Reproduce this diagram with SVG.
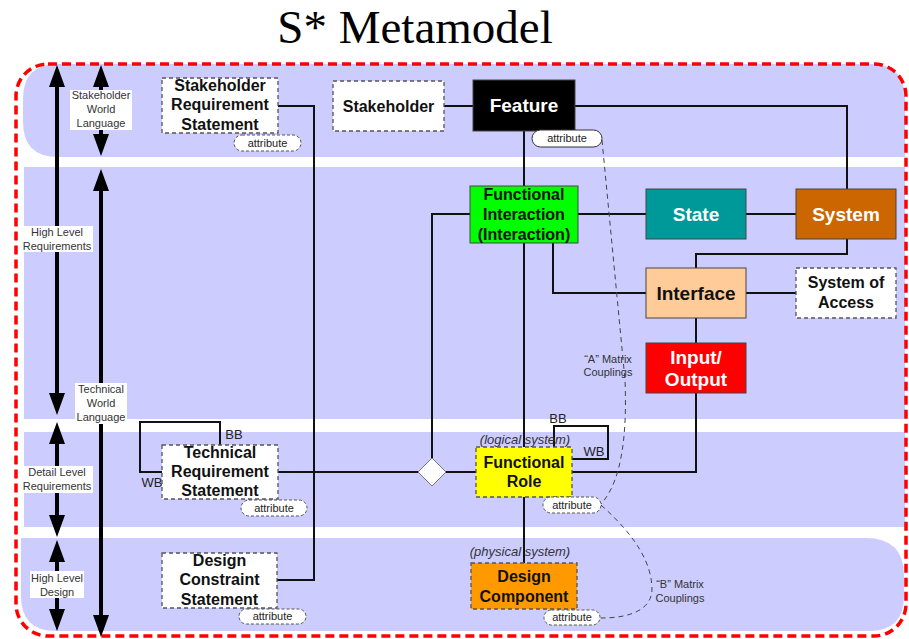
<svg xmlns="http://www.w3.org/2000/svg" width="909" height="639" viewBox="0 0 909 639">
<style>
.band{fill:#ccccff}
.lbl{font-family:"Liberation Sans",Arial,sans-serif;font-size:11px;fill:#333;text-anchor:middle}
.lblbg{fill:#ffffff}
.conn{fill:none;stroke:#111;stroke-width:2}
.cpl{fill:none;stroke:#444;stroke-width:1;stroke-dasharray:5 4}
.dbox{stroke:#555;stroke-width:1.3;stroke-dasharray:4 3}
.sbox{stroke:#444;stroke-width:1}
.t16{font-family:"Liberation Sans",Arial,sans-serif;font-size:16px;font-weight:bold;text-anchor:middle;fill:#111}
.t19{font-family:"Liberation Sans",Arial,sans-serif;font-size:19px;font-weight:bold;text-anchor:middle}
.pill{fill:#fff;stroke:#555;stroke-width:1;stroke-dasharray:3 2}
.pills{fill:#fff;stroke:#333;stroke-width:1}
.pt{font-family:"Liberation Sans",Arial,sans-serif;font-size:11px;fill:#222;text-anchor:middle}
.it{font-family:"Liberation Sans",Arial,sans-serif;font-size:13px;font-style:italic;fill:#333;text-anchor:middle}
.bw{font-family:"Liberation Sans",Arial,sans-serif;font-size:13px;fill:#222;text-anchor:middle}
.ar{fill:#000}
.al{stroke:#000;stroke-width:4}
</style>

<text x="415" y="43" font-family="'Liberation Serif','Times New Roman',serif" font-size="47" text-anchor="middle" fill="#000">S* Metamodel</text>

<g id="bands">
<path class="band" d="M58,64 H870 Q905,64 905,99 V157 H58 Q23,157 23,122 V99 Q23,64 58,64 Z"/>
<rect class="band" x="24" y="167" width="881" height="252"/>
<rect class="band" x="24" y="432" width="881" height="95"/>
<path class="band" d="M21,538 H866 Q904,538 904,576 V596 Q904,631 869,631 H56 Q21,631 21,596 Z"/>
</g>

<rect id="boundary" x="16" y="64" width="890" height="572" rx="32" fill="none" stroke="#ff0000" stroke-width="3.5" stroke-dasharray="9 5"/>

<g id="level-arrows">
<line class="al" x1="57" y1="84" x2="57" y2="396"/>
<polygon class="ar" points="57,65 49,87 65,87"/>
<polygon class="ar" points="57,415 49,393 65,393"/>
<line class="al" x1="57" y1="441" x2="57" y2="518"/>
<polygon class="ar" points="57,422 49,444 65,444"/>
<polygon class="ar" points="57,537 49,515 65,515"/>
<line class="al" x1="57" y1="559" x2="57" y2="612"/>
<polygon class="ar" points="57,540 49,562 65,562"/>
<polygon class="ar" points="57,631 49,609 65,609"/>
<line class="al" x1="101" y1="84" x2="101" y2="137"/>
<polygon class="ar" points="101,65 93,87 109,87"/>
<polygon class="ar" points="101,156 93,134 109,134"/>
<line class="al" x1="101" y1="188" x2="101" y2="618"/>
<polygon class="ar" points="101,169 93,191 109,191"/>
<polygon class="ar" points="101,637 93,615 109,615"/>
</g>

<g id="level-labels">
<rect class="lblbg" x="70" y="90" width="62" height="40"/>
<text class="lbl" x="101" y="99">Stakeholder</text>
<text class="lbl" x="101" y="113">World</text>
<text class="lbl" x="101" y="127">Language</text>
<rect class="lblbg" x="21" y="226" width="72" height="26"/>
<text class="lbl" x="57" y="236">High Level</text>
<text class="lbl" x="57" y="250">Requirements</text>
<rect class="lblbg" x="75" y="383" width="52" height="41"/>
<text class="lbl" x="101" y="393">Technical</text>
<text class="lbl" x="101" y="407">World</text>
<text class="lbl" x="101" y="421">Language</text>
<rect class="lblbg" x="22" y="466" width="71" height="27"/>
<text class="lbl" x="57" y="476">Detail Level</text>
<text class="lbl" x="57" y="490">Requirements</text>
<rect class="lblbg" x="30" y="571" width="54" height="27"/>
<text class="lbl" x="57" y="582">High Level</text>
<text class="lbl" x="57" y="596">Design</text>
</g>

<g id="connectors">
<path class="conn" d="M278,106 H314 V580 H277"/>
<path class="conn" d="M278,472 H418"/>
<path class="conn" d="M446,472 H476"/>
<path class="conn" d="M470,214 H432 V458"/>
<path class="conn" d="M444,106 H473"/>
<path class="conn" d="M575,106 H847 V189"/>
<path class="conn" d="M524,131 V447"/>
<path class="conn" d="M578,214 H646"/>
<path class="conn" d="M746,214 H796"/>
<path class="conn" d="M553,243 V293 H646"/>
<path class="conn" d="M847,239 V254 H696 V268"/>
<path class="conn" d="M746,293 H796"/>
<path class="conn" d="M696,318 V343"/>
<path class="conn" d="M696,393 V472 H572"/>
<path class="conn" d="M524,497 V563"/>
<path class="conn" d="M220,445 V422 H140 V472 H162"/>
<path class="conn" d="M554,447 V426 H608 V459 H572"/>
<path class="cpl" d="M602,140 L625,380 C627,430 623,480 601,504"/>
<path class="cpl" d="M601,505 C638,538 652,565 652,590 C651,610 630,618 601,618"/>
</g>

<g id="coupling-labels">
<text class="lbl" x="608" y="363">“A” Matrix</text>
<text class="lbl" x="608" y="376">Couplings</text>
<text class="lbl" x="680" y="588">“B” Matrix</text>
<text class="lbl" x="680" y="602">Couplings</text>
<text class="bw" x="234" y="439">BB</text>
<text class="bw" x="152" y="487">WB</text>
<text class="bw" x="558" y="423">BB</text>
<text class="bw" x="594" y="456">WB</text>
<text class="it" x="525" y="444">(logical system)</text>
<text class="it" x="520" y="556">(physical system)</text>
</g>

<g id="stakeholder-requirement-statement">
<rect class="dbox" x="162" y="78" width="116" height="55" fill="#fff"/>
<text class="t16" x="220" y="91">Stakeholder</text>
<text class="t16" x="220" y="110">Requirement</text>
<text class="t16" x="220" y="130">Statement</text>
<rect class="pill" x="234" y="135" width="67" height="16" rx="8"/>
<text class="pt" x="267.5" y="147">attribute</text>
</g>

<g id="stakeholder">
<rect class="dbox" x="333" y="81" width="111" height="50" fill="#fff"/>
<text class="t16" x="388.5" y="112">Stakeholder</text>
</g>

<g id="feature">
<rect class="sbox" x="473" y="80" width="102" height="51" fill="#000"/>
<text class="t19" x="524" y="112" fill="#fff">Feature</text>
<rect class="pills" x="532" y="130" width="70" height="17" rx="8.5"/>
<text class="pt" x="567" y="142">attribute</text>
</g>

<g id="functional-interaction">
<rect class="sbox" x="470" y="186" width="108" height="57" fill="#00ff00"/>
<text class="t16" x="524" y="200">Functional</text>
<text class="t16" x="524" y="220">Interaction</text>
<text class="t16" x="524" y="240">(Interaction)</text>
</g>

<g id="state">
<rect class="sbox" x="646" y="189" width="100" height="50" fill="#009999"/>
<text class="t19" x="696" y="221" fill="#fff">State</text>
</g>

<g id="system">
<rect class="sbox" x="796" y="189" width="100" height="50" fill="#cc6600"/>
<text class="t19" x="846" y="221" fill="#fff">System</text>
</g>

<g id="interface">
<rect class="sbox" x="646" y="268" width="100" height="50" fill="#ffcc99"/>
<text class="t19" x="696" y="300" fill="#111">Interface</text>
</g>

<g id="system-of-access">
<rect class="dbox" x="796" y="268" width="100" height="50" fill="#fff"/>
<text class="t16" x="846" y="288">System of</text>
<text class="t16" x="846" y="308">Access</text>
</g>

<g id="input-output">
<rect class="sbox" x="646" y="343" width="100" height="50" fill="#ff0000"/>
<text class="t19" x="696" y="364" fill="#fff">Input/</text>
<text class="t19" x="696" y="386" fill="#fff">Output</text>
</g>

<g id="junction">
<polygon points="432,458 446,472 432,486 418,472" fill="#fff" stroke="#777" stroke-width="1"/>
</g>

<g id="functional-role">
<rect class="dbox" x="476" y="447" width="96" height="50" fill="#ffff00"/>
<text class="t16" x="524" y="468">Functional</text>
<text class="t16" x="524" y="487">Role</text>
<rect class="pill" x="543" y="497" width="58" height="16" rx="8"/>
<text class="pt" x="572" y="509">attribute</text>
</g>

<g id="technical-requirement-statement">
<rect class="dbox" x="162" y="445" width="116" height="54" fill="#fff"/>
<text class="t16" x="220" y="458">Technical</text>
<text class="t16" x="220" y="477">Requirement</text>
<text class="t16" x="220" y="496">Statement</text>
<rect class="pill" x="241" y="500" width="66" height="16" rx="8"/>
<text class="pt" x="274" y="512">attribute</text>
</g>

<g id="design-constraint-statement">
<rect class="dbox" x="162" y="553" width="115" height="55" fill="#fff"/>
<text class="t16" x="219.5" y="566">Design</text>
<text class="t16" x="219.5" y="585">Constraint</text>
<text class="t16" x="219.5" y="605">Statement</text>
<rect class="pill" x="239" y="609" width="67" height="15" rx="7.5"/>
<text class="pt" x="272.5" y="620">attribute</text>
</g>

<g id="design-component">
<rect class="dbox" x="471" y="563" width="106" height="46" fill="#ff9900"/>
<text class="t16" x="524" y="582">Design</text>
<text class="t16" x="524" y="602">Component</text>
<rect class="pill" x="544" y="610" width="56" height="15" rx="7.5"/>
<text class="pt" x="572" y="621">attribute</text>
</g>
</svg>
